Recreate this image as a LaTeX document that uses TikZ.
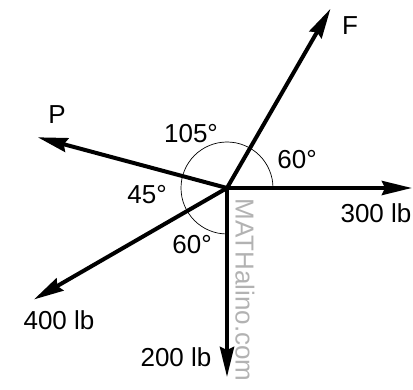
\documentclass[tikz,border=0pt]{standalone}
\usepackage{fontspec}
\setmainfont{Liberation Sans}
\usetikzlibrary{arrows.meta,calc}
\tikzset{
  force/.style={line width=4pt, -{Stealth[length=30pt,width=14pt,inset=3pt]}},
  lbl/.style={inner sep=0pt, font=\fontsize{26}{29}\selectfont},
}
\begin{document}
\begin{tikzpicture}[x=1pt,y=1pt]
\useasboundingbox (0,0) rectangle (413,389);
\coordinate (O) at (227,201);

% angle arcs
\draw[line width=0.7pt] (O) ++(0:46) arc[start angle=0, end angle=270, radius=46];

\coordinate (F) at ($(O)+(60:207)$);
\coordinate (E) at ($(O)+(0:185)$);
\coordinate (P) at ($(O)+(165:196)$);
\coordinate (W) at ($(O)+(210:223)$);
\coordinate (S) at ($(O)+(270:189)$);
\foreach \t in {F,E,P,W,S} \draw[force] (O) -- (\t);

\node[lbl] (fF) at (350,363) {F};
\node[lbl] (fP) at (57,274) {P};
\node[lbl] (f300) at (376,176) {300 lb};
\node[lbl] (f400) at (59,69) {400 lb};
\node[lbl] (f200) at (176,32) {200 lb};

\node[lbl] (a105) at (191,255) {105°};
\node[lbl] (a60u) at (297,229) {60°};
\node[lbl] (a45) at (147,194) {45°};
\node[lbl] (a60l) at (192,144) {60°};

\node[lbl, text=black!30, rotate=-90] (mark) at (245,99) {MATHalino.com}; % watermark
\end{tikzpicture}
\end{document}
